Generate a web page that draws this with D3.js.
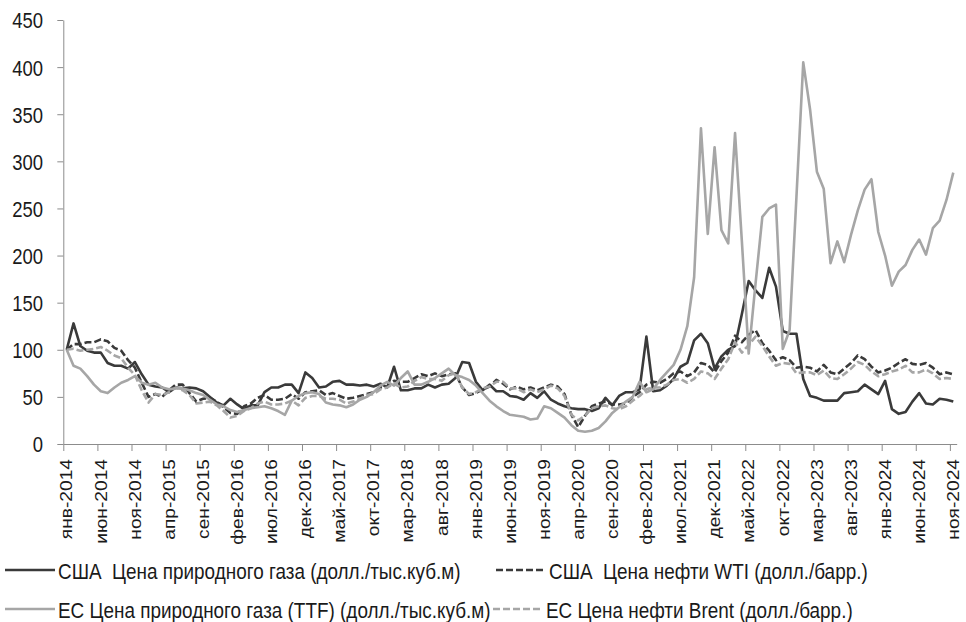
<!DOCTYPE html>
<html>
<head>
<meta charset="utf-8">
<script src="https://cdn.jsdelivr.net/npm/d3@7"></script>
<style>
  body { margin: 0; background: #fff; }
  text { font-family: "Liberation Sans", Arial, sans-serif; fill: #1a1a1a; white-space: pre; }
</style>
</head>
<body>
<script>
// month names and years for the category axis (янв-2014 ... ноя-2024)
const monthNames = ["янв", "фев", "мар", "апр", "май", "июн", "июл", "авг", "сен", "окт", "ноя", "дек"];
const years = [2014, 2015, 2016, 2017, 2018, 2019, 2020, 2021, 2022, 2023, 2024];
const nMonths = 131;
let categories = [];
years.forEach(yr => monthNames.forEach(m => categories.push(m + "-" + yr)));
categories = categories.slice(0, nMonths);

const yTicks = [0, 50, 100, 150, 200, 250, 300, 350, 400, 450];

// index, янв-2014 = 100
const usGas = [
  100, 128, 104, 99, 97, 97, 86, 83, 83, 80, 87, 74,
  63, 61, 60, 55, 60, 59, 60, 59, 56, 50, 44, 41,
  48, 42, 37, 41, 41, 55, 60, 60, 63, 63, 54, 76,
  70, 60, 61, 66, 67, 63, 63, 62, 63, 61, 64, 60,
  82, 57, 57, 59, 59, 63, 60, 63, 64, 70, 87, 86,
  66, 57, 63, 56, 56, 51, 50, 47, 54, 49, 56, 47,
  43, 40, 38, 37, 37, 35, 38, 49, 41, 51, 55, 55,
  58, 114, 56, 57, 62, 69, 82, 86, 110, 117, 107, 80,
  93, 100, 104, 138, 173, 163, 155, 187, 167, 120, 117, 117,
  69, 51, 49, 46, 46, 46, 54, 55, 56, 63, 58, 53,
  67, 37, 32, 34, 45, 54, 43, 42, 48, 47, 45
];
const usWti = [
  100, 106, 106, 108, 108, 111, 109, 102, 99, 89, 81, 65,
  50, 53, 50, 57, 63, 63, 54, 45, 48, 49, 45, 39,
  33, 32, 40, 43, 49, 52, 47, 47, 48, 53, 48, 55,
  56, 57, 52, 54, 51, 48, 49, 51, 53, 55, 60, 61,
  67, 66, 66, 70, 74, 72, 75, 72, 74, 75, 60, 52,
  54, 58, 61, 68, 64, 58, 61, 58, 60, 57, 60, 63,
  61, 53, 31, 18, 30, 40, 43, 45, 42, 42, 43, 50,
  55, 63, 66, 65, 69, 75, 77, 72, 76, 86, 84, 76,
  88, 97, 115, 108, 116, 121, 107, 99, 89, 92, 89, 81,
  82, 81, 77, 84, 76, 74, 80, 86, 94, 90, 82, 76,
  78, 81, 86, 90, 85, 84, 86, 81, 74, 76, 74
];
const euGas = [
  100, 83, 80, 72, 63, 56, 54, 60, 65, 68, 72, 65,
  63, 65, 60, 58, 59, 59, 57, 54, 52, 47, 42, 40,
  36, 34, 36, 38, 39, 40, 38, 35, 31, 46, 51, 54,
  55, 53, 44, 42, 41, 39, 42, 47, 50, 55, 62, 66,
  62, 70, 77, 63, 63, 66, 70, 75, 80, 73, 71, 68,
  62, 54, 46, 40, 35, 31, 30, 29, 26, 27, 40, 38,
  33, 28, 20, 14, 13, 14, 17, 24, 33, 39, 45, 50,
  66, 55, 58, 68, 76, 84, 100, 125, 177, 335, 223, 315,
  227, 213, 330, 215, 96, 170, 241, 250, 254, 101, 121, 262,
  405, 355, 289, 271, 192, 215, 193, 222, 248, 270, 281, 225,
  200, 168, 183, 190, 206, 217, 201, 229, 237, 259, 288
];
const euBrent = [
  100, 101, 99, 100, 101, 103, 99, 94, 91, 81, 73, 57,
  44, 53, 52, 55, 60, 57, 52, 43, 44, 45, 41, 35,
  28, 30, 35, 38, 43, 45, 42, 42, 43, 46, 41, 49,
  51, 51, 48, 48, 47, 43, 45, 48, 52, 53, 58, 60,
  64, 60, 61, 67, 71, 69, 69, 67, 73, 75, 60, 53,
  55, 59, 61, 66, 66, 59, 59, 55, 58, 55, 58, 62,
  59, 51, 31, 25, 30, 38, 40, 41, 38, 37, 40, 46,
  51, 58, 60, 60, 63, 68, 69, 65, 69, 77, 75, 69,
  80, 90, 108, 97, 105, 114, 104, 93, 83, 86, 85, 75,
  76, 76, 73, 78, 70, 69, 74, 80, 87, 84, 77, 72,
  74, 77, 79, 83, 76, 76, 79, 75, 69, 70, 69
];

const seriesNames = [
  "США  Цена природного газа (долл./тыс.куб.м)",
  "США  Цена нефти WTI (долл./барр.)",
  "ЕС Цена природного газа (TTF) (долл./тыс.куб.м)",
  "ЕС Цена нефти Brent (долл./барр.)"
];
const seriesValues = [usGas, usWti, euGas, euBrent];

const darkCol = "#3a3a3a", lightCol = "#a6a6a6", axisCol = "#8c8c8c";
const styles = [
  {color: darkCol, dash: null},
  {color: darkCol, dash: "7,3"},
  {color: lightCol, dash: null},
  {color: lightCol, dash: "7,3"}
];

let svg = d3.select("body").append("svg")
    .attr("width", 966)
    .attr("height", 622);

let x = d3.scaleBand().domain(categories).range([63.3, 956.7]),
    xEdge = d3.scaleLinear().domain([0, nMonths]).range([63.3, 956.7]),
    y = d3.scaleLinear().domain([0, 450]).range([444, 20]);

// y axis
let yAxis = svg.append("g")
    .attr("transform", "translate(63.3,0)")
    .call(d3.axisLeft(y).tickValues(yTicks).tickSize(6).tickSizeOuter(0));
yAxis.select(".domain").attr("stroke", axisCol);
yAxis.selectAll(".tick line").attr("stroke", axisCol);
yAxis.selectAll(".tick text")
    .attr("font-size", 22)
    .attr("x", 0)
    .attr("dy", "0.36em")
    .attr("transform", "translate(-20.3,0) scale(0.84,1)");

// x axis: tick marks on month boundaries every 5 months
let xTickAxis = svg.append("g")
    .attr("transform", "translate(0,444)")
    .call(d3.axisBottom(xEdge).tickValues(d3.range(0, nMonths, 5)).tickSize(7).tickSizeOuter(0).tickFormat(""));
xTickAxis.select(".domain").attr("stroke", axisCol);
xTickAxis.selectAll(".tick line").attr("stroke", axisCol);

// x axis labels centred on the labelled month
let xLabelAxis = svg.append("g")
    .attr("transform", "translate(0,444)")
    .call(d3.axisBottom(x).tickValues(categories.filter((c, i) => i % 5 === 0)).tickSize(0));
xLabelAxis.select(".domain").remove();
xLabelAxis.selectAll(".tick text")
    .attr("font-size", 16)
    .attr("text-anchor", "end")
    .attr("x", 0)
    .attr("y", 0)
    .attr("dy", "0.36em")
    .attr("transform", "translate(0,15) rotate(-90) scale(1.2,1)");

// lines
let line = d3.line()
    .x((d, i) => x(categories[i]) + x.bandwidth() / 2)
    .y(d => y(d));

[0, 1, 2, 3].forEach(k => {
    svg.append("path")
        .datum(seriesValues[k])
        .attr("fill", "none")
        .attr("stroke", styles[k].color)
        .attr("stroke-width", 2.6)
        .attr("stroke-linejoin", "round")
        .attr("stroke-dasharray", styles[k].dash)
        .attr("d", line);
});

// legend
let legendPos = [
    {x: 5, y: 570},
    {x: 496, y: 570},
    {x: 5, y: 609},
    {x: 493, y: 609}
];
let legend = svg.append("g").attr("class", "legend");
legendPos.forEach((p, k) => {
    legend.append("line")
        .attr("x1", p.x).attr("x2", p.x + 50)
        .attr("y1", p.y).attr("y2", p.y)
        .attr("stroke", styles[k].color)
        .attr("stroke-width", 2.6)
        .attr("stroke-dasharray", styles[k].dash);
    legend.append("text")
        .attr("transform", "translate(" + (p.x + 53) + "," + (p.y + 8.5) + ") scale(0.86,1)")
        .attr("font-size", 22)
        .text(seriesNames[k]);
});
</script>
</body>
</html>
